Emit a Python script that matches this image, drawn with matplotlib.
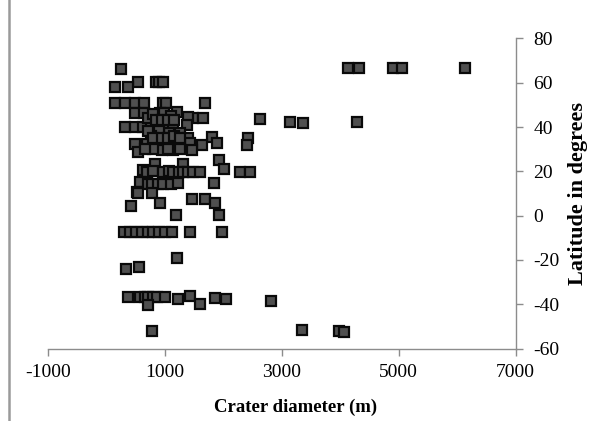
import matplotlib
matplotlib.use("Agg")
import matplotlib.pyplot as plt
from matplotlib.lines import Line2D

# Crater diameter (m)
diameter = [
    240,
    530, 850, 900, 960,
    150, 372,
    150, 315, 486, 640, 960, 1010, 1690,
    486, 640, 915, 980, 1201, 1100,
    1486, 1657, 1400, 2630, 3131, 3361, 4292,
    315, 486, 629, 750, 858, 1000, 1143, 1372,
    1060, 1260, 900, 750, 1400,
    1801, 2412, 1630, 1897, 2401,
    486, 687, 858, 1030, 1201, 1315, 1429,
    544, 944, 1143, 1458, 800,
    829, 1315, 1915,
    629, 687, 800, 971, 1060, 1143, 1230, 1315, 1400, 1486, 1600, 2000, 2286, 2458,
    572, 700, 772, 880, 971, 1100, 1229, 1829,
    515, 544, 772,
    1458, 1686, 1858,
    418, 915,
    1189, 1915,
    290, 400, 500, 600, 700, 800, 900, 1000, 1110, 1418, 1972,
    1205,
    330, 555,
    372, 572, 650, 714, 790, 858, 1000, 714, 1229, 1429, 1600, 1846, 2041, 2815,
    772, 3344, 3972, 4058,
    4126, 4315, 4903, 5058, 6143,
    700, 800, 850, 950, 1050, 1150, 700, 800, 950, 1050, 1150, 1250, 650, 1050, 1250,
]

# Latitude in degrees
latitude = [
    66,
    60.5, 60.5, 60.5, 60.5,
    58.2, 58.2,
    50.7, 50.7, 50.7, 50.7, 50.7, 50.7, 50.7,
    46.2, 46.2, 46.2, 46.5, 46.9, 45,
    43.9, 43.9, 44.5, 43.6, 42.4, 42, 42.4,
    40.1, 40.1, 40.1, 40, 40.1, 41, 40.1, 41,
    37.1, 37.1, 38, 36, 34.9,
    35.6, 34.9, 31.8, 32.6, 31.8,
    32.5, 32.5, 32.5, 32.5, 32.5, 32.5, 32.6,
    28.8, 29.6, 29.6, 29.6, 30,
    23.5, 23.5, 25,
    20.5, 19.8, 20, 19.8, 20, 19.8, 19.8, 19.8, 19.8, 19.8, 19.8, 20.9, 19.8, 19.8,
    15.2, 14.5, 14.5, 14.5, 14.5, 14.5, 14.8, 14.8,
    10.7, 10, 10,
    7.7, 7.7, 5.5,
    4.2, 5.7,
    0.2, 0.2,
    -7.4, -7.4, -7.4, -7.4, -7.4, -7.4, -7.4, -7.4, -7.4, -7.4, -7.4,
    -19.2,
    -23.9, -23.2,
    -36.6, -36.6, -36.6, -36.6, -36.6, -36.6, -36.6, -40.3, -37.5, -36.4, -40.1, -37, -37.8, -38.4,
    -52.3, -51.8, -52.2, -52.6,
    66.5, 66.5, 66.5, 66.5, 66.5,
    44, 46, 43, 43, 43, 43, 38, 35, 35, 35, 36, 35, 30, 30, 30,
]

x_ticks = [-1000, 1000, 3000, 5000, 7000]
y_ticks = [-60, -40, -20, 0, 20, 40, 60, 80]

plt.rcParams['font.family'] = ['Liberation Serif', 'DejaVu Serif']
plt.rcParams['axes.unicode_minus'] = False

fig = plt.figure(figsize=(5.95, 4.21), dpi=100)
ax = fig.add_axes([48.3/595, 1-348.5/421, (515.5-48.3)/595, (348.5-38.5)/421])

ax.plot(diameter, latitude, linestyle='none', marker='s', markersize=7.6,
        markerfacecolor='#4f4f4f', markeredgecolor='#0a0a0a', markeredgewidth=1.6,
        clip_on=False)

ax.set_xlim(-1000, 7000)
ax.set_ylim(-60, 80)
ax.set_xticks(x_ticks)
ax.set_yticks(y_ticks)

for s in ['top', 'left']:
    ax.spines[s].set_visible(False)
for s in ['bottom', 'right']:
    ax.spines[s].set_color('#8c8c8c')
    ax.spines[s].set_linewidth(1.0)

ax.yaxis.tick_right()
ax.yaxis.set_label_position('right')
ax.tick_params(axis='both', direction='out', length=5, width=1.0, color='#8c8c8c',
               labelsize=14)
ax.tick_params(axis='x', pad=6)
ax.tick_params(axis='y', pad=8)

ax.set_xlabel('Crater diameter (m)', fontsize=13.5, fontweight='bold')
ax.xaxis.set_label_coords(0.53, -0.162)
ax.set_ylabel('Latitude in degrees', fontsize=16, fontweight='bold', labelpad=6)

fig.add_artist(Line2D([9/595, 9/595], [0, 1], transform=fig.transFigure,
                      color='#9a9a9a', linewidth=1.8))

fig.savefig('out.png', dpi=100)
